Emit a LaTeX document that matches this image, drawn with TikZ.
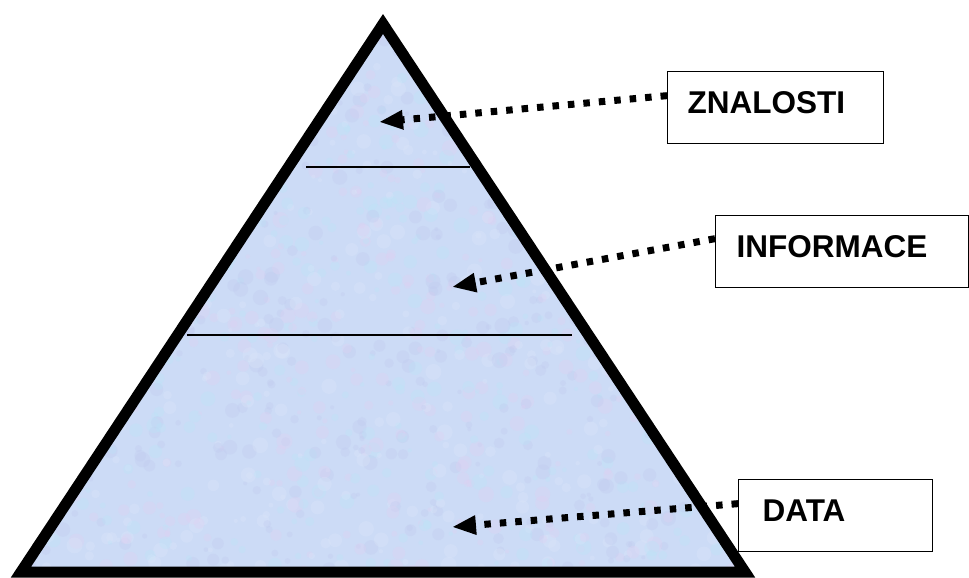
\documentclass[tikz,border=0pt]{standalone}
\usepackage{fontspec}
\setmainfont{Liberation Sans}
\usetikzlibrary{arrows.meta}
\definecolor{pyrbase}{RGB}{204,219,246}
\definecolor{blob0}{RGB}{226,206,242}
\definecolor{blob1}{RGB}{184,230,248}
\definecolor{blob2}{RGB}{190,200,238}
\definecolor{blob3}{RGB}{222,232,250}
\begin{document}
\begin{tikzpicture}[x=1pt,y=-1pt,
  box/.style={draw=black, line width=1.3pt, fill=white, inner ysep=0pt,
    text height=42pt, text depth=30pt, align=left,
    font=\fontsize{31.5}{36}\selectfont\bfseries, anchor=north west},
  ptr/.style={line width=7pt, dash pattern=on 6.5pt off 9pt,
    -{Triangle[length=24pt,width=18pt]}},
  divider/.style={line width=1.8pt}]
\useasboundingbox (0,0) rectangle (969,578);
\coordinate (apex) at (383,24);
\coordinate (bl) at (21,572);
\coordinate (br) at (745,572);
\begin{scope}
  \clip (apex) -- (bl) -- (br) -- cycle;
  \fill[pyrbase] (0,0) rectangle (969,578);
  \pgfmathsetseed{11}
  \foreach \i in {1,...,1800} {
    \pgfmathsetmacro\px{20+rnd*730}
    \pgfmathsetmacro\py{20+rnd*560}
    \pgfmathsetmacro\pr{2+rnd*6}
    \pgfmathtruncatemacro\pc{int(rnd*4)}
    \fill[blob\pc, opacity=0.28] (\px,\py) circle[radius=\pr];
  }
\end{scope}
\draw[line width=11pt, line join=miter] (apex) -- (bl) -- (br) -- cycle;
\coordinate (d1l) at (306,167);
\coordinate (d1r) at (470,167);
\coordinate (d2l) at (187,335);
\coordinate (d2r) at (572,335);
\draw[divider] (d1l) -- (d1r);
\draw[divider] (d2l) -- (d2r);
\node[box, inner xsep=20pt, text width=176pt] (zn) at (667,71) {ZNALOSTI};
\node[box, inner xsep=21pt, text width=211pt] (inf) at (715,215) {INFORMACE};
\node[box, inner xsep=24pt, text width=146pt] (dat) at (738,479) {DATA};
\coordinate (tz) at (379,122);
\coordinate (ti) at (452,287);
\coordinate (td) at (452,527);
\draw[ptr] ([yshift=12pt]zn.west) -- (tz);
\draw[ptr] ([yshift=13pt]inf.west) -- (ti);
\draw[ptr] ([yshift=12pt]dat.west) -- (td);
\end{tikzpicture}
\end{document}
